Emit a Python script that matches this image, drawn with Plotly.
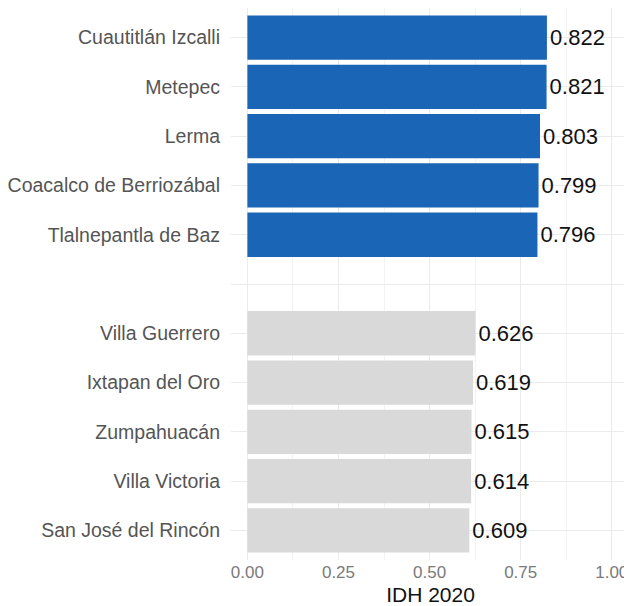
import plotly.graph_objects as go

# IDH 2020 - municipios con mayor y menor índice
top_names = ["Cuautitlán Izcalli", "Metepec", "Lerma", "Coacalco de Berriozábal", "Tlalnepantla de Baz"]
top_vals = [0.822, 0.821, 0.803, 0.799, 0.796]
bottom_names = ["Villa Guerrero", "Ixtapan del Oro", "Zumpahuacán", "Villa Victoria", "San José del Rincón"]
bottom_vals = [0.626, 0.619, 0.615, 0.614, 0.609]
gap = " "  # empty row between both groups

order = top_names + [gap] + bottom_names

fig = go.Figure()
fig.add_bar(y=top_names, x=top_vals, orientation="h", width=0.9,
            marker=dict(color="#1a65b5", line=dict(width=0)),
            text=[f"{v:.3f}" for v in top_vals], textposition="outside",
            textfont=dict(size=22, color="#111111"), cliponaxis=False)
fig.add_bar(y=bottom_names, x=bottom_vals, orientation="h", width=0.9,
            marker=dict(color="#d9d9d9", line=dict(width=0)),
            text=[f"{v:.3f}" for v in bottom_vals], textposition="outside",
            textfont=dict(size=22, color="#111111"), cliponaxis=False)

# the page body has an 8px margin, so the figure is a bit smaller than the window
fig.update_layout(
    width=624, height=598,
    margin=dict(l=223, r=2, t=0, b=46),
    plot_bgcolor="white", paper_bgcolor="white",
    showlegend=False, bargap=0.1,
    font=dict(family="Liberation Sans, Arial, sans-serif"),
)
fig.update_xaxes(
    range=[-0.045, 1.05], tickvals=[0, 0.25, 0.5, 0.75, 1.0],
    ticktext=["0.00", "0.25", "0.50", "0.75", "1.00"],
    tickfont=dict(size=17, color="#7a7a7a"),
    showgrid=True, gridcolor="#ebebeb", gridwidth=1.2,
    minor=dict(dtick=0.125, tick0=0, showgrid=True, gridcolor="#f3f3f3", gridwidth=0.6),
    zeroline=False, showline=False, ticks="", automargin=False,
    title=dict(text="IDH 2020", font=dict(size=21, color="#111111"), standoff=6),
)
fig.update_yaxes(
    type="category", categoryorder="array", categoryarray=order,
    range=[10.6, -0.6],
    tickfont=dict(size=19.5, color="#555555"),
    showgrid=True, gridcolor="#ebebeb", gridwidth=1.2,
    zeroline=False, showline=False, ticks="", ticklabelstandoff=10,
    automargin=False,
)

fig.write_html("out.html")
